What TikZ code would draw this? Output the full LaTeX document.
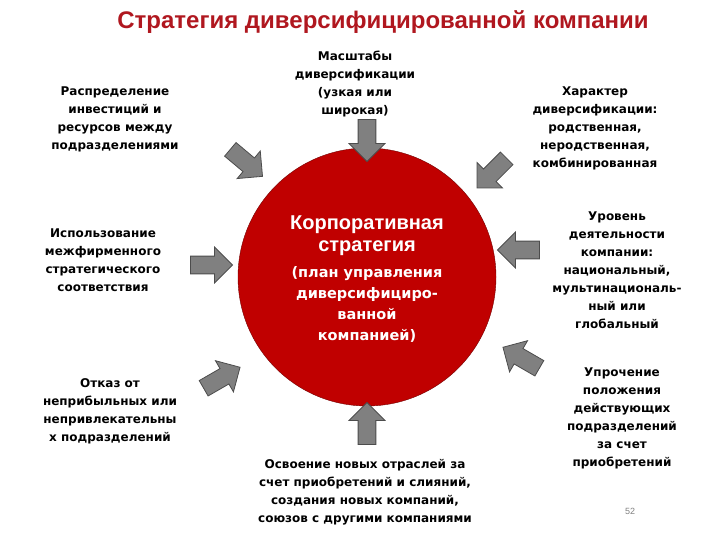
\documentclass[tikz,border=0pt]{standalone}
\usepackage{fontspec}
\setmainfont{Liberation Sans}
\newfontfamily\bodyfont{DejaVu Sans}
\usetikzlibrary{shapes.arrows}
\definecolor{darkred}{HTML}{B0171F}
\definecolor{circred}{HTML}{C00000}
\definecolor{arrgray}{HTML}{808080}
\tikzset{
  txt/.style={align=center, font=\bodyfont\bfseries\fontsize{12}{18}\selectfont},
  blockarrow/.style={single arrow, draw=black!70, fill=arrgray, minimum height=42, minimum width=36,
    single arrow head extend=4, inner sep=3.5, line width=0.8pt}
}
\begin{document}
\begin{tikzpicture}[x=1pt,y=-1pt]
    \useasboundingbox (0,0) rectangle (720,540);
    \node[font=\bfseries\fontsize{24}{26}\selectfont, text=darkred] (title) at (383,22) {Стратегия диверсифицированной компании};
    \node[circle, fill=circred, draw=circred!60!black, minimum size=258] (core) at (367,277) {};
    \node[align=center, text=white, font=\bfseries\fontsize{20}{22}\selectfont] (corp) at (367,236) {Корпоративная\\стратегия};
    \node[txt, text=white, font=\bodyfont\bfseries\fontsize{14.5}{21}\selectfont] (plan) at (367,304) {(план управления\\диверсифициро-\\ванной\\компанией)};

    \node[txt] (scale) at (355,84) {Масштабы\\диверсификации\\(узкая или\\широкая)};
    \node[txt] (invest) at (115,119) {Распределение\\инвестиций и\\ресурсов между\\подразделениями};
    \node[txt] (kind) at (595,128) {Характер\\диверсификации:\\родственная,\\неродственная,\\комбинированная};
    \node[txt] (fit) at (103,260) {Использование\\межфирменного\\стратегического\\соответствия};
    \node[txt] (level) at (617,270) {Уровень\\деятельности\\компании:\\национальный,\\мультинациональ-\\ный или\\глобальный};
    \node[txt] (exit) at (110,411) {Отказ от\\неприбыльных или\\непривлекательны\\х подразделений};
    \node[txt] (strong) at (622,418) {Упрочение\\положения\\действующих\\подразделений\\за счет\\приобретений};
    \node[txt] (new) at (365,492) {Освоение новых отраслей за\\счет приобретений и слияний,\\создания новых компаний,\\союзов с другими компаниями};
    \node[text=black!50, font=\fontsize{9}{10}\selectfont] (page) at (630,511) {52};

    % arrows towards the circle
    \node[blockarrow, rotate=-90] (a1) at (367,136) {};
    \node[blockarrow, rotate=-40] (a2) at (243,160) {};
    \node[blockarrow, rotate=-135] (a3) at (495,170) {};
    \node[blockarrow] (a4) at (207,265) {};
    \node[blockarrow, rotate=180] (a5) at (523,250) {};
    \node[blockarrow, rotate=30] (a6) at (218,380) {};
    \node[blockarrow, rotate=150] (a7) at (525,360) {};
    \node[blockarrow, rotate=90] (a8) at (367,428) {};
\end{tikzpicture}
\end{document}
